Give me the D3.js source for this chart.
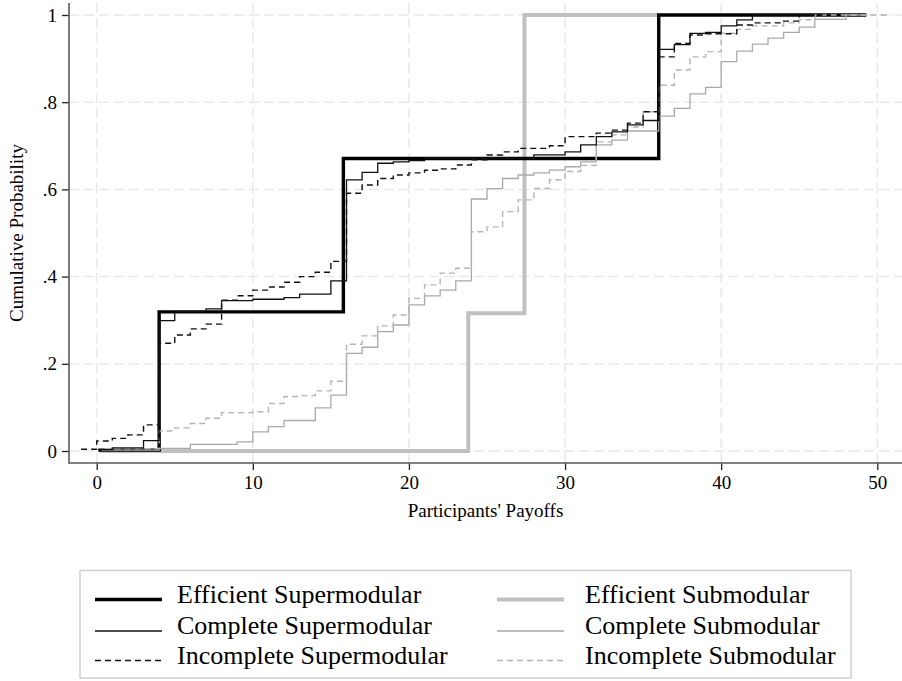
<!DOCTYPE html>
<html>
<head>
<meta charset="utf-8">
<script src="https://cdn.jsdelivr.net/npm/d3@7"></script>
<style>
  html, body { margin: 0; padding: 0; background: #fff; }
  svg { display: block; font-family: "Liberation Serif", "Times New Roman", serif; }
</style>
</head>
<body>
<svg id="chart" width="902" height="681"></svg>
<script>
// ---------------- data ----------------
const xTicks = [0, 10, 20, 30, 40, 50];
const yTicks = [0, 0.2, 0.4, 0.6, 0.8, 1];
const yTickLabels = ["0", ".2", ".4", ".6", ".8", "1"];
const xTitle = "Participants' Payoffs";
const yTitle = "Cumulative Probability";

const seriesNames = [
  "Efficient Supermodular", "Efficient Submodular",
  "Complete Supermodular", "Complete Submodular",
  "Incomplete Supermodular", "Incomplete Submodular"
];

// step points: value y holds from x[i] until x[i+1]
const effSupX = [0.1, 4.0, 15.8, 36.0, 49.3];
const effSupY = [0.002, 0.319, 0.671, 1.0, 1.0];

const effSubX = [0.2, 23.8, 27.4, 36.0];
const effSubY = [0.0, 0.316, 1.0, 1.0];

const compSupX = [0.3, 1.0, 3.0, 4.0, 5.0, 7.0, 8.0, 10.0, 12.0, 13.0, 15.0, 16.0, 17.0, 18.0, 19.0, 20.0, 21.0, 28.0, 30.0, 31.0, 32.0, 33.0, 34.0, 35.0, 36.0, 37.0, 38.0, 39.0, 40.0, 41.0, 42.0, 46.0];
const compSupY = [0.003, 0.007, 0.024, 0.299, 0.32, 0.326, 0.345, 0.348, 0.352, 0.36, 0.39, 0.622, 0.639, 0.66, 0.663, 0.666, 0.672, 0.679, 0.686, 0.702, 0.721, 0.732, 0.748, 0.758, 0.921, 0.932, 0.958, 0.96, 0.975, 0.989, 1.0, 1.0];

const compSubX = [0.3, 4.0, 6.0, 9.0, 10.0, 11.0, 12.0, 14.0, 15.0, 16.0, 17.0, 18.0, 19.0, 20.0, 21.0, 22.0, 23.0, 24.0, 25.0, 26.0, 27.0, 28.0, 29.0, 30.0, 31.0, 32.0, 33.0, 34.0, 36.0, 37.0, 38.0, 39.0, 40.0, 41.0, 42.0, 43.0, 44.0, 45.0, 46.0, 48.0, 49.3];
const compSubY = [0.002, 0.006, 0.015, 0.021, 0.044, 0.056, 0.07, 0.099, 0.128, 0.224, 0.238, 0.274, 0.289, 0.335, 0.356, 0.369, 0.39, 0.578, 0.602, 0.625, 0.633, 0.638, 0.644, 0.652, 0.663, 0.702, 0.713, 0.734, 0.768, 0.786, 0.819, 0.834, 0.893, 0.917, 0.933, 0.947, 0.96, 0.972, 0.99, 1.0, 1.0];

const incSupX = [-1.0, 0.0, 1.0, 2.0, 3.0, 4.0, 5.0, 6.0, 7.0, 8.0, 9.0, 10.0, 11.0, 12.0, 13.0, 14.0, 15.0, 16.0, 17.0, 18.0, 19.0, 20.0, 21.0, 22.0, 23.0, 24.0, 25.0, 26.0, 27.0, 29.0, 30.0, 32.0, 33.0, 34.0, 35.0, 36.0, 37.0, 38.0, 39.0, 41.0, 42.0, 44.0, 45.0, 47.0];
const incSupY = [0.004, 0.023, 0.029, 0.037, 0.06, 0.247, 0.266, 0.28, 0.291, 0.346, 0.356, 0.369, 0.376, 0.387, 0.40, 0.41, 0.435, 0.591, 0.61, 0.625, 0.633, 0.638, 0.644, 0.647, 0.656, 0.668, 0.679, 0.686, 0.694, 0.70, 0.721, 0.729, 0.736, 0.752, 0.778, 0.904, 0.935, 0.954, 0.957, 0.977, 0.982, 0.986, 1.0, 1.0];

const incSubX = [0.5, 4.0, 5.0, 6.0, 7.0, 8.0, 10.0, 11.0, 12.0, 13.0, 14.0, 15.0, 16.0, 17.0, 18.0, 19.0, 20.0, 21.0, 22.0, 23.0, 24.0, 25.0, 26.0, 27.0, 28.0, 29.0, 30.0, 31.0, 32.0, 33.0, 34.0, 35.0, 36.0, 37.0, 38.0, 39.0, 40.0, 41.0, 42.0, 44.0, 45.0, 46.0, 50.9];
const incSubY = [0.005, 0.046, 0.053, 0.063, 0.075, 0.088, 0.09, 0.109, 0.125, 0.127, 0.138, 0.16, 0.245, 0.264, 0.287, 0.312, 0.35, 0.381, 0.408, 0.419, 0.503, 0.514, 0.549, 0.576, 0.602, 0.622, 0.641, 0.655, 0.709, 0.725, 0.743, 0.778, 0.839, 0.874, 0.904, 0.916, 0.958, 0.967, 0.975, 0.982, 0.989, 1.0, 1.0];

// ---------------- layout / styles ----------------
const svg = d3.select("#chart");
const plotLeft = 69, plotRight = 902, plotTop = 3, plotBottom = 463;

const x = d3.scaleLinear().domain([0, 50]).range([96.7, 877.3]);
const y = d3.scaleLinear().domain([0, 1]).range([451, 15]);

const styles = {
  "Efficient Supermodular":  { color: "#000000", width: 3.4, dash: null },
  "Efficient Submodular":    { color: "#c0c0c0", width: 4.0, dash: null },
  "Complete Supermodular":   { color: "#111111", width: 1.3, dash: null },
  "Complete Submodular":     { color: "#a9a9a9", width: 1.3, dash: null },
  "Incomplete Supermodular": { color: "#111111", width: 1.4, dash: "6,4" },
  "Incomplete Submodular":   { color: "#b4b4b4", width: 1.4, dash: "6,4" }
};

const seriesData = {
  "Efficient Supermodular": [effSupX, effSupY],
  "Efficient Submodular": [effSubX, effSubY],
  "Complete Supermodular": [compSupX, compSupY],
  "Complete Submodular": [compSubX, compSubY],
  "Incomplete Supermodular": [incSupX, incSupY],
  "Incomplete Submodular": [incSubX, incSubY]
};

// ---------------- grid ----------------
const grid = svg.append("g");
grid.selectAll("line.vg").data(xTicks).join("line")
  .attr("x1", d => x(d)).attr("x2", d => x(d))
  .attr("y1", plotTop).attr("y2", plotBottom)
  .attr("stroke", "#e8e8e8").attr("stroke-width", 1.5).attr("stroke-dasharray", "10,5");
grid.selectAll("line.hg").data(yTicks).join("line")
  .attr("x1", plotLeft).attr("x2", plotRight)
  .attr("y1", d => y(d)).attr("y2", d => y(d))
  .attr("stroke", "#e8e8e8").attr("stroke-width", 1.5).attr("stroke-dasharray", "10,5");

// ---------------- series ----------------
const line = d3.line().x(d => x(d[0])).y(d => y(d[1])).curve(d3.curveStepAfter);
const drawOrder = ["Efficient Submodular", "Efficient Supermodular", "Complete Submodular", "Incomplete Submodular", "Complete Supermodular", "Incomplete Supermodular"];
const gLines = svg.append("g");
drawOrder.forEach(name => {
  const [xs, ys] = seriesData[name];
  const pts = xs.map((v, i) => [v, ys[i]]);
  const s = styles[name];
  gLines.append("path").datum(pts)
    .attr("d", line)
    .attr("fill", "none")
    .attr("stroke", s.color)
    .attr("stroke-width", s.width)
    .attr("stroke-dasharray", s.dash)
    .attr("stroke-linejoin", "miter");
});

// ---------------- axes ----------------
const axisColor = "#595959";
const yAxis = svg.append("g").attr("transform", `translate(${plotLeft},0)`)
  .call(d3.axisLeft(y).tickValues(yTicks).tickSize(7).tickPadding(5).tickFormat((d, i) => yTickLabels[i]));
const xAxis = svg.append("g").attr("transform", `translate(0,${plotBottom})`)
  .call(d3.axisBottom(x).tickValues(xTicks).tickSize(7).tickPadding(6).tickFormat(d3.format("d")));
[yAxis, xAxis].forEach(g => {
  g.select(".domain").remove();
  g.selectAll(".tick line").attr("stroke", "#222").attr("stroke-width", 1.3);
  g.selectAll(".tick text").attr("fill", "#000").style("font-size", "19px")
    .style("font-family", "'Liberation Serif', 'Times New Roman', serif");
});
svg.append("line").attr("x1", plotLeft).attr("x2", plotLeft).attr("y1", plotTop).attr("y2", plotBottom + 0.75)
  .attr("stroke", axisColor).attr("stroke-width", 1.6);
svg.append("line").attr("x1", plotLeft).attr("x2", plotRight).attr("y1", plotBottom).attr("y2", plotBottom)
  .attr("stroke", axisColor).attr("stroke-width", 1.6);

// axis titles
svg.append("text").text(xTitle)
  .attr("x", (plotLeft + plotRight) / 2).attr("y", 517)
  .attr("text-anchor", "middle").style("font-size", "19px").attr("fill", "#000");
svg.append("text").text(yTitle)
  .attr("transform", `translate(23,${(plotTop + plotBottom) / 2}) rotate(-90)`)
  .attr("text-anchor", "middle").style("font-size", "19px").attr("fill", "#000");

// ---------------- legend ----------------
const legend = svg.append("g");
legend.append("rect").attr("x", 80).attr("y", 570.5).attr("width", 771).attr("height", 107.5)
  .attr("fill", "none").attr("stroke", "#cfcfcf").attr("stroke-width", 1.5);
const legendOrder = [
  ["Efficient Supermodular", 0, 0], ["Efficient Submodular", 1, 0],
  ["Complete Supermodular", 0, 1], ["Complete Submodular", 1, 1],
  ["Incomplete Supermodular", 0, 2], ["Incomplete Submodular", 1, 2]
];
const colSample = [95, 497], sampleLen = 67, colText = [177, 585];
const rowY = [599.5, 631, 660.5];
legendOrder.forEach(([name, c, r]) => {
  const s = styles[name];
  legend.append("line")
    .attr("x1", colSample[c]).attr("x2", colSample[c] + sampleLen)
    .attr("y1", rowY[r]).attr("y2", rowY[r])
    .attr("stroke", s.color).attr("stroke-width", s.width).attr("stroke-dasharray", s.dash);
  legend.append("text").text(name)
    .attr("x", colText[c]).attr("y", rowY[r] + 3)
    .style("font-size", "26px").attr("fill", "#000");
});
</script>
</body>
</html>
